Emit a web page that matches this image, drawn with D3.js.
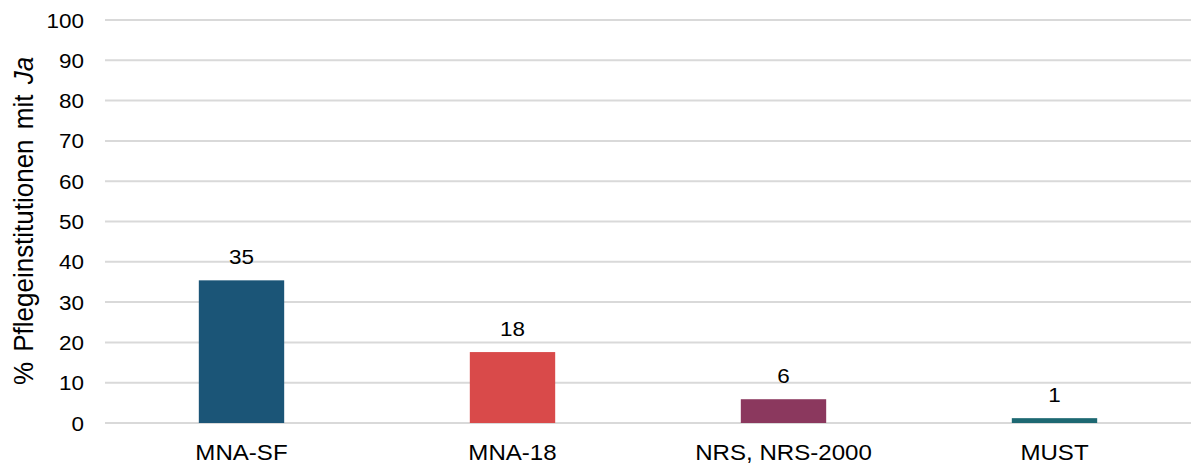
<!DOCTYPE html>
<html>
<head>
<meta charset="utf-8">
<script src="https://cdn.jsdelivr.net/npm/d3@7"></script>
<style>
  body { margin: 0; background: #fff; }
  text { font-family: "Liberation Sans", Arial, sans-serif; fill: #000; }
</style>
</head>
<body>
<div id="chart"></div>
<script>
// data
var categories = ["MNA-SF", "MNA-18", "NRS, NRS-2000", "MUST"];
var values = [35.4, 17.6, 5.9, 1.2];
var valueLabels = ["35", "18", "6", "1"];
var barColors = ["#1b5577", "#d94a4a", "#8b385e", "#1d6872"];
var yTicks = [0, 10, 20, 30, 40, 50, 60, 70, 80, 90, 100];

var svgWidth = 1191;
var svgHeight = 464;
var stretch = 1.07; // the original text looks slightly wide

var svg = d3.select("#chart")
  .append("svg")
  .attr("width", svgWidth)
  .attr("height", svgHeight);

var xScale = d3.scaleBand()
  .domain(categories)
  .range([106, 1190])
  .paddingInner(0.685)
  .paddingOuter(0.3425);

var yScale = d3.scaleLinear()
  .domain([0, 100])
  .range([423, 20]);

// gridlines
svg.append("g")
  .selectAll("line")
  .data(yTicks)
  .enter()
  .append("line")
  .attr("x1", 105)
  .attr("x2", 1191)
  .attr("y1", d => yScale(d))
  .attr("y2", d => yScale(d))
  .attr("stroke", "#d9d9d9")
  .attr("stroke-width", 2);

// y tick labels
svg.append("g")
  .selectAll("text")
  .data(yTicks)
  .enter()
  .append("text")
  .attr("transform", d => `translate(84, ${yScale(d)}) scale(${stretch}, 1)`)
  .attr("dy", "0.36em")
  .attr("text-anchor", "end")
  .style("font-size", "21px")
  .text(d => d);

// bars
svg.append("g")
  .selectAll("rect")
  .data(categories)
  .enter()
  .append("rect")
  .attr("x", d => xScale(d))
  .attr("width", xScale.bandwidth())
  .attr("y", (d, i) => yScale(values[i]))
  .attr("height", (d, i) => yScale(0) - yScale(values[i]))
  .attr("fill", (d, i) => barColors[i]);

// value labels
svg.append("g")
  .selectAll("text")
  .data(categories)
  .enter()
  .append("text")
  .attr("transform", (d, i) => `translate(${xScale(d) + xScale.bandwidth() / 2}, ${yScale(values[i]) - 16}) scale(${stretch}, 1)`)
  .attr("text-anchor", "middle")
  .style("font-size", "21px")
  .text((d, i) => valueLabels[i]);

// category labels
svg.append("g")
  .selectAll("text")
  .data(categories)
  .enter()
  .append("text")
  .attr("transform", d => `translate(${xScale(d) + xScale.bandwidth() / 2}, 460) scale(${stretch}, 1)`)
  .attr("text-anchor", "middle")
  .style("font-size", "22.5px")
  .text(d => d);

// y axis title
var title = svg.append("text")
  .attr("transform", `translate(33, 221) scale(${stretch}, 1) rotate(-90)`)
  .attr("text-anchor", "middle")
  .style("font-size", "26px")
  .style("word-spacing", "3px");
title.append("tspan").text("% Pflegeinstitutionen mit ");
title.append("tspan").style("font-style", "italic").text("Ja");
</script>
</body>
</html>
